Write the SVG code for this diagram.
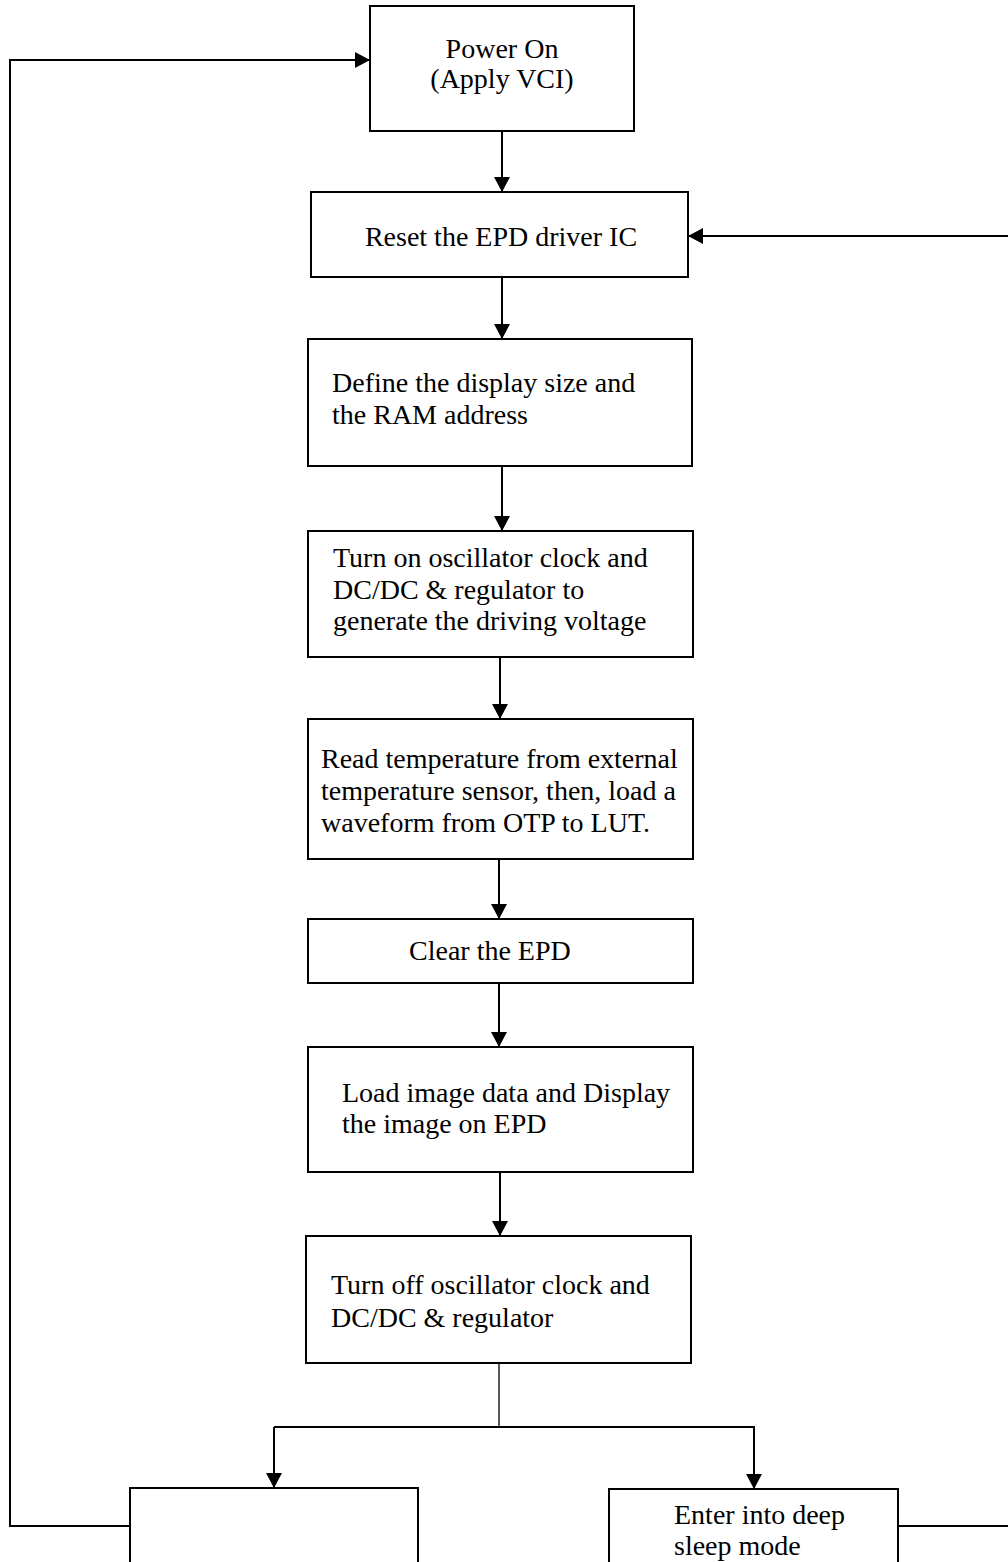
<svg xmlns="http://www.w3.org/2000/svg" width="1008" height="1562" viewBox="0 0 1008 1562">
<defs>
<style>
.box{fill:#fff;stroke:#000;stroke-width:2}
.t{font-family:"Liberation Serif","Times New Roman",serif;font-size:28px;fill:#000}
.c{text-anchor:middle}
.ln{fill:none;stroke:#000;stroke-width:2}
.thin{fill:none;stroke:#000;stroke-width:1.3}
</style>
<marker id="ah" markerWidth="15" markerHeight="16" refX="15" refY="8" orient="auto" markerUnits="userSpaceOnUse">
<path d="M0,0 L15,8 L0,16 Z" fill="#000"/>
</marker>
</defs>
<rect width="1008" height="1562" fill="#fff"/>
<g id="connectors">
<line class="ln" x1="502" y1="131" x2="502" y2="192" marker-end="url(#ah)"/>
<line class="ln" x1="502" y1="277" x2="502" y2="339" marker-end="url(#ah)"/>
<line class="ln" x1="502" y1="466" x2="502" y2="531" marker-end="url(#ah)"/>
<line class="ln" x1="500" y1="657" x2="500" y2="719" marker-end="url(#ah)"/>
<line class="ln" x1="499" y1="859" x2="499" y2="919" marker-end="url(#ah)"/>
<line class="ln" x1="499" y1="983" x2="499" y2="1047" marker-end="url(#ah)"/>
<line class="ln" x1="500" y1="1172" x2="500" y2="1236" marker-end="url(#ah)"/>
<line class="thin" x1="499" y1="1363" x2="499" y2="1427"/>
<polyline class="ln" points="274,1427 754,1427 754,1489" marker-end="url(#ah)"/>
<line class="ln" x1="274" y1="1427" x2="274" y2="1488" marker-end="url(#ah)"/>
<polyline class="ln" points="130,1526 10,1526 10,60 370,60" marker-end="url(#ah)"/>
<line class="ln" x1="898" y1="1526" x2="1008" y2="1526"/>
<line class="ln" x1="1008" y1="236" x2="688" y2="236" marker-end="url(#ah)"/>
</g>
<g id="power-on">
<rect class="box" x="370" y="6" width="264" height="125"/>
<text class="t c" x="502" y="58">Power On</text>
<text class="t c" x="502" y="88">(Apply VCI)</text>
</g>
<g id="reset">
<rect class="box" x="311" y="192" width="377" height="85"/>
<text class="t c" x="501" y="246">Reset the EPD driver IC</text>
</g>
<g id="define">
<rect class="box" x="308" y="339" width="384" height="127"/>
<text class="t" x="332" y="392">Define the display size and</text>
<text class="t" x="332" y="424">the RAM address</text>
</g>
<g id="turn-on">
<rect class="box" x="308" y="531" width="385" height="126"/>
<text class="t" x="333" y="567">Turn on oscillator clock and</text>
<text class="t" x="333" y="599">DC/DC &amp; regulator to</text>
<text class="t" x="333" y="630">generate the driving voltage</text>
</g>
<g id="read-temp">
<rect class="box" x="308" y="719" width="385" height="140"/>
<text class="t" x="321" y="768">Read temperature from external</text>
<text class="t" x="321" y="800">temperature sensor, then, load a</text>
<text class="t" x="321" y="832">waveform from OTP to LUT.</text>
</g>
<g id="clear">
<rect class="box" x="308" y="919" width="385" height="64"/>
<text class="t" x="409" y="960">Clear the EPD</text>
</g>
<g id="load-image">
<rect class="box" x="308" y="1047" width="385" height="125"/>
<text class="t" x="342" y="1102">Load image data and Display</text>
<text class="t" x="342" y="1133">the image on EPD</text>
</g>
<g id="turn-off">
<rect class="box" x="306" y="1236" width="385" height="127"/>
<text class="t" x="331" y="1294">Turn off oscillator clock and</text>
<text class="t" x="331" y="1327">DC/DC &amp; regulator</text>
</g>
<g id="power-off">
<rect class="box" x="130" y="1488" width="288" height="90"/>
</g>
<g id="deep-sleep">
<rect class="box" x="609" y="1489" width="289" height="90"/>
<text class="t" x="674" y="1524">Enter into deep</text>
<text class="t" x="674" y="1555">sleep mode</text>
</g>
</svg>
